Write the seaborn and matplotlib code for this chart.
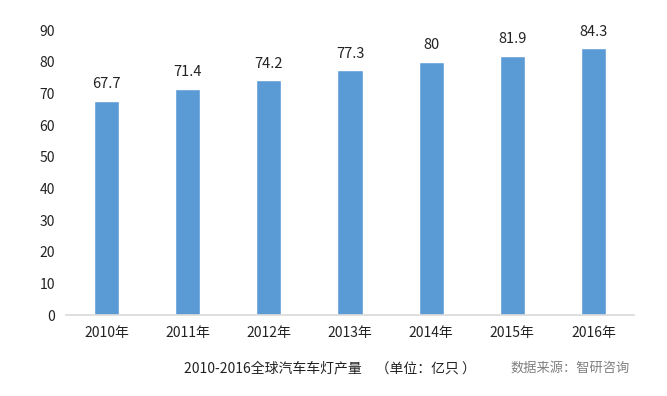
import matplotlib.pyplot as plt
import seaborn as sns
import pandas as pd

years = ['2010年', '2011年', '2012年', '2013年', '2014年', '2015年', '2016年']
output = [67.7, 71.4, 74.2, 77.3, 80, 81.9, 84.3]
value_labels = ['67.7', '71.4', '74.2', '77.3', '80', '81.9', '84.3']

sns.set_style('white')
plt.rcParams['font.family'] = ['Noto Sans CJK SC', 'DejaVu Sans']

df = pd.DataFrame({'year': years, 'output': output})

fig = plt.figure(figsize=(6.67, 3.96), dpi=100)
ax = fig.add_axes([0.099, 0.2045, 0.8515, 0.7195])
sns.barplot(data=df, x='year', y='output', color='#5B9BD5', width=0.31,
            saturation=1, ax=ax)

for i, (v, lab) in enumerate(zip(output, value_labels)):
    ax.text(i, v + 3, lab, ha='center', va='bottom', fontsize=10.5, color='#222222')

ax.set_ylim(0, 90)
ax.set_yticks(range(0, 91, 10))
ax.set_xlim(-0.5, 6.5)
ax.set_xlabel('')
ax.set_ylabel('')
for s in ['top', 'right', 'left']:
    ax.spines[s].set_visible(False)
ax.spines['bottom'].set_color('#D9D9D9')
ax.spines['bottom'].set_linewidth(1.2)
ax.tick_params(axis='both', length=0, labelsize=10, colors='#222222', pad=8)

fig.text(0.495, 0.07, '2010-2016全球汽车车灯产量　（单位：亿只 ）', ha='center',
         va='center', fontsize=10, color='#222222')
fig.text(0.855, 0.07, '数据来源：智研咨询', ha='center', va='center',
         fontsize=9.5, color='#808080', style='italic')

fig.savefig('out.png', dpi=100)
